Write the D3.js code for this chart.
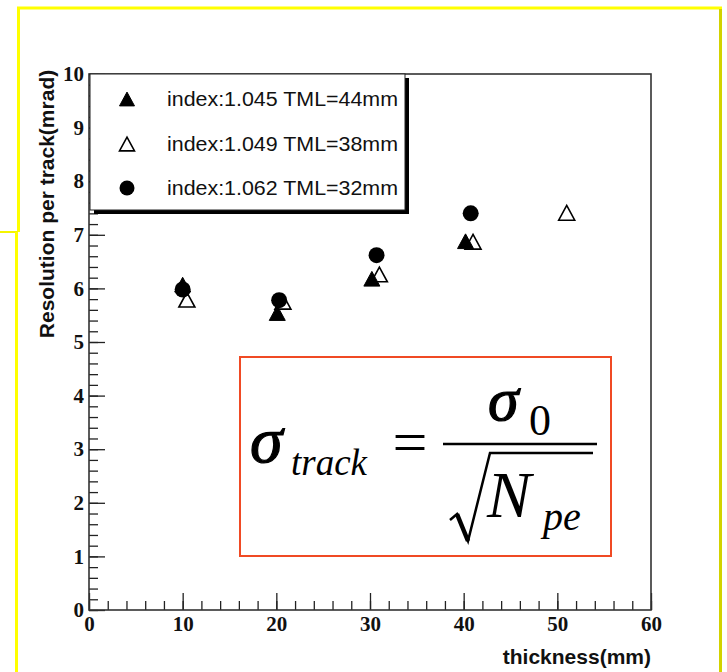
<!DOCTYPE html>
<html>
<head>
<meta charset="utf-8">
<script src="https://cdn.jsdelivr.net/npm/d3@7"></script>
<style>
  html, body { margin: 0; padding: 0; background: #fff; }
  svg { display: block; }
</style>
</head>
<body>
<svg id="chart" width="727" height="672"></svg>
<script>
// ── Data ──────────────────────────────────────────────────────────────────
const seriesLabels = ['index:1.045 TML=44mm', 'index:1.049 TML=38mm', 'index:1.062 TML=32mm'];
const seriesMarkers = ['triFilled', 'triOpen', 'circle'];

const tml44X = [10.0, 20.1, 30.2, 40.2];
const tml44Y = [6.07, 5.54, 6.18, 6.88];

const tml38X = [10.45, 20.7, 31.0, 41.0, 51.0];
const tml38Y = [5.79, 5.75, 6.26, 6.87, 7.41];

const tml32X = [10.0, 20.3, 30.7, 40.75];
const tml32Y = [5.98, 5.78, 6.62, 7.40];

const xMajorTicks = [0, 10, 20, 30, 40, 50, 60];
const yMajorTicks = [0, 1, 2, 3, 4, 5, 6, 7, 8, 9, 10];

const xLabel = 'thickness(mm)';
const yLabel = 'Resolution per track(mrad)';

(function () {
  'use strict';

  const svg = d3.select('#chart');

  // ── Slide frame (yellow borders) ─────────────────────────────────────────
  const frame = svg.append('g');
  frame.append('line').attr('x1', 17).attr('y1', 8).attr('x2', 722).attr('y2', 8)
    .attr('stroke', '#ffff00').attr('stroke-width', 3);
  frame.append('line').attr('x1', 18.5).attr('y1', 7).attr('x2', 18.5).attr('y2', 232)
    .attr('stroke', '#ffff00').attr('stroke-width', 3);
  frame.append('line').attr('x1', 0).attr('y1', 232).attr('x2', 18).attr('y2', 232)
    .attr('stroke', '#f5f500').attr('stroke-width', 2);
  frame.append('line').attr('x1', 16.5).attr('y1', 232).attr('x2', 16.5).attr('y2', 672)
    .attr('stroke', '#ffff00').attr('stroke-width', 3);
  frame.append('line').attr('x1', 720.5).attr('y1', 9).attr('x2', 720.5).attr('y2', 672)
    .attr('stroke', '#d2d200').attr('stroke-width', 3);

  // ── Plot area ────────────────────────────────────────────────────────────
  const left = 89, right = 651, top = 74, bottom = 610;
  const x = d3.scaleLinear().domain([0, 60]).range([left, right]);
  const y = d3.scaleLinear().domain([0, 10]).range([bottom, top]);

  const serif = '"Liberation Serif", "Times New Roman", serif';
  const sans = '"Liberation Sans", Arial, Helvetica, sans-serif';

  // minor ticks
  svg.append('g')
    .attr('transform', `translate(0,${bottom})`)
    .call(d3.axisBottom(x).tickValues(d3.range(0, 60.01, 2)).tickSize(-9).tickSizeOuter(0).tickFormat(''))
    .call(ax => ax.select('.domain').remove())
    .call(ax => ax.selectAll('.tick line').attr('stroke', '#222').attr('stroke-width', 1.3));
  svg.append('g')
    .attr('transform', `translate(${left},0)`)
    .call(d3.axisLeft(y).tickValues(d3.range(0, 10.01, 0.2)).tickSize(-9).tickSizeOuter(0).tickFormat(''))
    .call(ax => ax.select('.domain').remove())
    .call(ax => ax.selectAll('.tick line').attr('stroke', '#222').attr('stroke-width', 1.3));

  // major ticks + labels
  svg.append('g')
    .attr('transform', `translate(0,${bottom})`)
    .call(d3.axisBottom(x).tickValues(xMajorTicks).tickSize(-17).tickSizeOuter(0).tickPadding(6))
    .call(ax => ax.select('.domain').remove())
    .call(ax => ax.selectAll('.tick line').attr('stroke', '#222').attr('stroke-width', 1.3))
    .call(ax => ax.selectAll('.tick text')
      .attr('font-family', serif).attr('font-weight', 'bold').attr('font-size', 21).attr('fill', '#111'));
  svg.append('g')
    .attr('transform', `translate(${left},0)`)
    .call(d3.axisLeft(y).tickValues(yMajorTicks).tickSize(-16).tickSizeOuter(0).tickPadding(5))
    .call(ax => ax.select('.domain').remove())
    .call(ax => ax.selectAll('.tick line').attr('stroke', '#222').attr('stroke-width', 1.3))
    .call(ax => ax.selectAll('.tick text')
      .attr('font-family', serif).attr('font-weight', 'bold').attr('font-size', 21).attr('fill', '#111'));

  // frame
  svg.append('rect')
    .attr('x', left).attr('y', top).attr('width', right - left).attr('height', bottom - top)
    .attr('fill', 'none').attr('stroke', '#333').attr('stroke-width', 1.6);

  // axis titles
  svg.append('text')
    .attr('x', right).attr('y', 664)
    .attr('text-anchor', 'end')
    .attr('font-family', sans).attr('font-weight', 'bold').attr('font-size', 21).attr('fill', '#111')
    .text(xLabel);
  svg.append('text')
    .attr('transform', 'translate(54,204) rotate(-90)')
    .attr('text-anchor', 'middle')
    .attr('font-family', sans).attr('font-weight', 'bold').attr('font-size', 21).attr('fill', '#111')
    .text(yLabel);

  // ── Markers ──────────────────────────────────────────────────────────────
  function drawMarker(g, kind, cx, cy, s) {
    if (kind === 'circle') {
      g.append('circle').attr('cx', cx).attr('cy', cy).attr('r', s * 0.5)
        .attr('fill', '#000');
    } else {
      const w = s, h = s * 0.92;
      const pts = [[cx, cy - h / 2], [cx + w / 2, cy + h / 2], [cx - w / 2, cy + h / 2]];
      g.append('path')
        .attr('d', d3.line()(pts) + 'Z')
        .attr('fill', kind === 'triFilled' ? '#000' : '#fff')
        .attr('stroke', '#000').attr('stroke-width', kind === 'triFilled' ? 1 : 1.6)
        .attr('stroke-linejoin', 'miter');
    }
  }

  const series = [
    { kind: 'triOpen', xs: tml38X, ys: tml38Y },
    { kind: 'triFilled', xs: tml44X, ys: tml44Y },
    { kind: 'circle', xs: tml32X, ys: tml32Y }
  ];
  const pts = svg.append('g');
  series.forEach(sr => {
    sr.xs.forEach((v, i) => drawMarker(pts, sr.kind, x(v), y(sr.ys[i]), 16));
  });

  // ── Legend ───────────────────────────────────────────────────────────────
  const lg = svg.append('g');
  lg.append('rect').attr('x', 94).attr('y', 78).attr('width', 315).attr('height', 136).attr('fill', '#000');
  lg.append('rect').attr('x', 90).attr('y', 74).attr('width', 315).attr('height', 136)
    .attr('fill', '#fff').attr('stroke', '#222').attr('stroke-width', 1);
  const rowY = [99, 144, 188];
  seriesLabels.forEach((lab, i) => {
    drawMarker(lg, seriesMarkers[i], 127, rowY[i], 15);
    lg.append('text')
      .attr('x', 167).attr('y', rowY[i] + 7)
      .attr('font-family', sans).attr('font-size', 20).attr('fill', '#111')
      .attr('textLength', 231).attr('lengthAdjust', 'spacingAndGlyphs')
      .text(lab);
  });

  // ── Formula box ──────────────────────────────────────────────────────────
  const fb = svg.append('g');
  fb.append('rect').attr('x', 240).attr('y', 357).attr('width', 371).attr('height', 199)
    .attr('fill', 'none').attr('stroke', '#f04a24').attr('stroke-width', 2);
  fb.append('text').attr('x', 250).attr('y', 462)
    .attr('font-family', serif).attr('font-style', 'italic').attr('font-size', 66)
    .attr('fill', '#000').attr('stroke', '#000').attr('stroke-width', 1.2).text('σ');
  fb.append('text').attr('x', 291).attr('y', 475)
    .attr('font-family', serif).attr('font-style', 'italic').attr('font-size', 37).attr('fill', '#000').text('track');
  fb.append('text').attr('x', 410).attr('y', 463).attr('text-anchor', 'middle')
    .attr('font-family', serif).attr('font-size', 62).attr('fill', '#000').text('=');
  fb.append('line').attr('x1', 443).attr('y1', 444).attr('x2', 597).attr('y2', 444)
    .attr('stroke', '#000').attr('stroke-width', 2.5);
  fb.append('text').attr('x', 488).attr('y', 420)
    .attr('font-family', serif).attr('font-style', 'italic').attr('font-size', 62)
    .attr('fill', '#000').attr('stroke', '#000').attr('stroke-width', 1.2).text('σ');
  fb.append('text').attr('x', 529).attr('y', 435)
    .attr('font-family', serif).attr('font-size', 44).attr('fill', '#000').text('0');
  fb.append('path')
    .attr('d', 'M450,520 L457,514 L468,541 L490,453 L593,453')
    .attr('fill', 'none').attr('stroke', '#000').attr('stroke-width', 2.5).attr('stroke-linejoin', 'miter');
  fb.append('path')
    .attr('d', 'M457,514 L468,541')
    .attr('fill', 'none').attr('stroke', '#000').attr('stroke-width', 4.5);
  fb.append('text').attr('x', 487).attr('y', 517)
    .attr('font-family', serif).attr('font-style', 'italic').attr('font-size', 66).attr('fill', '#000').text('N');
  fb.append('text').attr('x', 543).attr('y', 530)
    .attr('font-family', serif).attr('font-style', 'italic').attr('font-size', 40).attr('fill', '#000').text('pe');
})();
</script>
</body>
</html>
